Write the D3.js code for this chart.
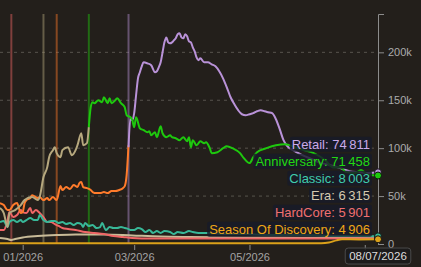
<!DOCTYPE html>
<html>
<head>
<meta charset="utf-8">
<script src="https://cdn.jsdelivr.net/npm/d3@7"></script>
<style>
  html, body { margin: 0; padding: 0; background: #231f1b; }
  svg { display: block; font-family: "Liberation Sans", Arial, sans-serif; }
</style>
</head>
<body>
<div id="chart"></div>
<script>
// Series values: [date, players]
const retail = [
  ["2026-02-26", 101000], ["2026-02-27", 131300], ["2026-02-28", 129200], ["2026-03-01", 136500],
  ["2026-03-02", 155200], ["2026-03-03", 172900], ["2026-03-04", 179200], ["2026-03-05", 185400],
  ["2026-03-06", 189600], ["2026-03-08", 188500], ["2026-03-10", 186500], ["2026-03-12", 179200],
  ["2026-03-13", 180200], ["2026-03-14", 184400], ["2026-03-15", 189600], ["2026-03-16", 200000],
  ["2026-03-17", 210400], ["2026-03-18", 215600], ["2026-03-19", 210400], ["2026-03-20", 209400],
  ["2026-03-21", 210400], ["2026-03-22", 212500], ["2026-03-23", 214600], ["2026-03-24", 218800],
  ["2026-03-25", 219800], ["2026-03-26", 215600], ["2026-03-27", 214600], ["2026-03-28", 218800],
  ["2026-03-29", 216700], ["2026-03-30", 211500], ["2026-03-31", 210400], ["2026-04-01", 205200],
  ["2026-04-02", 201000], ["2026-04-03", 194800], ["2026-04-04", 191700], ["2026-04-05", 193800],
  ["2026-04-07", 189600], ["2026-04-09", 189600], ["2026-04-11", 187500], ["2026-04-13", 185400],
  ["2026-04-15", 180200], ["2026-04-17", 172900], ["2026-04-19", 163500], ["2026-04-21", 153100],
  ["2026-04-23", 145800], ["2026-04-25", 139600], ["2026-04-27", 135400], ["2026-04-29", 134400],
  ["2026-05-01", 135400], ["2026-05-03", 136500], ["2026-05-05", 138500], ["2026-05-07", 139600],
  ["2026-05-09", 138500], ["2026-05-11", 137500], ["2026-05-13", 136500], ["2026-05-15", 130200],
  ["2026-05-17", 119800], ["2026-05-19", 108300], ["2026-05-21", 102100], ["2026-05-24", 97900],
  ["2026-05-29", 92700], ["2026-06-03", 88500], ["2026-06-08", 84400], ["2026-06-13", 82300],
  ["2026-06-18", 79200], ["2026-06-23", 76000], ["2026-06-28", 75000], ["2026-07-03", 74000],
  ["2026-07-08", 74811]
];

const anniversary = [
  ["2026-02-05", 121900], ["2026-02-06", 142700], ["2026-02-07", 147900], ["2026-02-08", 146900],
  ["2026-02-10", 150000], ["2026-02-12", 147900], ["2026-02-13", 153100], ["2026-02-15", 146900],
  ["2026-02-16", 152100], ["2026-02-17", 146900], ["2026-02-19", 150000], ["2026-02-20", 152100],
  ["2026-02-22", 146900], ["2026-02-24", 142700], ["2026-02-25", 134400], ["2026-02-27", 132300],
  ["2026-02-28", 129200], ["2026-03-01", 121900], ["2026-03-02", 132300], ["2026-03-04", 120800],
  ["2026-03-06", 118800], ["2026-03-08", 116700], ["2026-03-09", 117700], ["2026-03-10", 113500],
  ["2026-03-12", 116700], ["2026-03-13", 111500], ["2026-03-15", 122900], ["2026-03-16", 115600],
  ["2026-03-18", 111500], ["2026-03-20", 113500], ["2026-03-21", 111500], ["2026-03-23", 110400],
  ["2026-03-25", 108300], ["2026-03-27", 111500], ["2026-03-29", 107300], ["2026-03-30", 111500],
  ["2026-03-31", 101000], ["2026-04-01", 108300], ["2026-04-03", 103100], ["2026-04-05", 107300],
  ["2026-04-07", 105200], ["2026-04-08", 106300], ["2026-04-10", 100000], ["2026-04-11", 94800],
  ["2026-04-14", 95800], ["2026-04-17", 100000], ["2026-04-19", 102100], ["2026-04-22", 100000],
  ["2026-04-26", 94800], ["2026-04-28", 89600], ["2026-05-01", 84400], ["2026-05-03", 90600],
  ["2026-05-05", 95800], ["2026-05-10", 100000], ["2026-05-15", 103100], ["2026-05-20", 104200],
  ["2026-05-25", 101000], ["2026-05-30", 97900], ["2026-06-04", 94800], ["2026-06-10", 87500],
  ["2026-06-14", 80200], ["2026-06-18", 80200], ["2026-06-21", 75000], ["2026-06-26", 74000],
  ["2026-06-29", 77100], ["2026-07-03", 71900], ["2026-07-08", 71458]
];

const classic = [
  ["2025-12-20", 22900], ["2025-12-22", 24000], ["2025-12-24", 17700], ["2025-12-25", 22900],
  ["2025-12-27", 25000], ["2025-12-29", 22900], ["2025-12-31", 25000], ["2026-01-01", 22900],
  ["2026-01-03", 25000], ["2026-01-05", 27100], ["2026-01-07", 25000], ["2026-01-09", 25000],
  ["2026-01-10", 30200], ["2026-01-12", 25000], ["2026-01-14", 22900], ["2026-01-16", 24000],
  ["2026-01-18", 24000], ["2026-01-20", 21900], ["2026-01-22", 22900], ["2026-01-24", 20800],
  ["2026-01-26", 21900], ["2026-01-28", 19800], ["2026-01-30", 21900], ["2026-02-01", 20800],
  ["2026-02-02", 17700], ["2026-02-03", 21900], ["2026-02-05", 18800], ["2026-02-07", 19800],
  ["2026-02-09", 16700], ["2026-02-11", 17700], ["2026-02-12", 21900], ["2026-02-14", 14600],
  ["2026-02-16", 17700], ["2026-02-18", 16700], ["2026-02-20", 16700], ["2026-02-22", 17700],
  ["2026-02-24", 16700], ["2026-02-26", 15600], ["2026-02-27", 14600], ["2026-03-01", 14600],
  ["2026-03-03", 16700], ["2026-03-05", 15600], ["2026-03-07", 12500], ["2026-03-09", 14600],
  ["2026-03-11", 11500], ["2026-03-13", 13500], ["2026-03-15", 11500], ["2026-03-17", 13500],
  ["2026-03-20", 12500], ["2026-03-22", 10400], ["2026-03-24", 12500], ["2026-03-27", 11500],
  ["2026-03-30", 13500], ["2026-04-01", 12500], ["2026-04-04", 11500], ["2026-04-09", 11500],
  ["2026-04-19", 10400], ["2026-04-29", 10400], ["2026-05-09", 9400], ["2026-05-19", 9400],
  ["2026-05-29", 9400], ["2026-06-08", 8900], ["2026-06-18", 8300], ["2026-06-28", 8300],
  ["2026-07-08", 8003]
];

const era = [
  ["2025-12-20", 6300], ["2025-12-24", 5200], ["2025-12-26", 4200], ["2025-12-28", 5200],
  ["2026-01-01", 6800], ["2026-01-09", 8300], ["2026-01-19", 9400], ["2026-01-29", 10000],
  ["2026-02-13", 10000], ["2026-02-28", 8900], ["2026-03-15", 7800], ["2026-03-30", 7300],
  ["2026-04-29", 6800], ["2026-05-29", 6600], ["2026-07-08", 6315]
];

const hardcore = [
  ["2025-12-20", 14600], ["2025-12-22", 14600], ["2025-12-24", 25000], ["2025-12-25", 33300],
  ["2025-12-27", 28100], ["2025-12-29", 30200], ["2025-12-31", 35400], ["2026-01-01", 33300],
  ["2026-01-03", 32300], ["2026-01-05", 37500], ["2026-01-06", 32300], ["2026-01-08", 35400],
  ["2026-01-10", 32300], ["2026-01-12", 28100], ["2026-01-14", 22900], ["2026-01-16", 22900],
  ["2026-01-18", 20800], ["2026-01-20", 18800], ["2026-01-22", 16700], ["2026-01-25", 15600],
  ["2026-01-29", 14600], ["2026-02-03", 12500], ["2026-02-08", 11500], ["2026-02-13", 10400],
  ["2026-02-18", 8300], ["2026-02-23", 7300], ["2026-02-28", 6300], ["2026-03-10", 5700],
  ["2026-04-09", 5700], ["2026-05-09", 5700], ["2026-06-08", 5800], ["2026-07-08", 5901]
];

const seasonOfDiscovery = [
  ["2025-12-20", 800], ["2026-02-01", 800], ["2026-04-01", 800], ["2026-06-08", 800],
  ["2026-06-12", 1500], ["2026-06-16", 3800], ["2026-06-19", 4900], ["2026-06-28", 4800],
  ["2026-07-08", 4906]
];

// ended series, drawn without an end label
const retailPrev = [
  ["2025-12-20", 42700], ["2025-12-22", 40600], ["2025-12-24", 35400], ["2025-12-25", 35400],
  ["2025-12-27", 40600], ["2025-12-29", 42700], ["2025-12-31", 32300], ["2026-01-01", 33300],
  ["2026-01-02", 42700], ["2026-01-03", 45800], ["2026-01-05", 47900], ["2026-01-06", 51000],
  ["2026-01-09", 47900], ["2026-01-10", 49000], ["2026-01-12", 45800], ["2026-01-14", 47900],
  ["2026-01-15", 45800], ["2026-01-17", 49000], ["2026-01-19", 45800], ["2026-01-21", 60400],
  ["2026-01-22", 56300], ["2026-01-24", 59400], ["2026-01-26", 57300], ["2026-01-28", 61500],
  ["2026-01-30", 59400], ["2026-01-31", 63500], ["2026-02-01", 64600], ["2026-02-02", 59400],
  ["2026-02-04", 58300], ["2026-02-06", 56300], ["2026-02-07", 54200], ["2026-02-09", 53100],
  ["2026-02-11", 53100], ["2026-02-13", 54200], ["2026-02-15", 53100], ["2026-02-17", 55200],
  ["2026-02-19", 55200], ["2026-02-21", 56300], ["2026-02-23", 58300], ["2026-02-24", 60400],
  ["2026-02-25", 71900], ["2026-02-26", 103000]
];

const anniversaryPrev = [
  ["2025-12-20", 37500], ["2025-12-22", 32300], ["2025-12-24", 17700], ["2025-12-25", 32300],
  ["2025-12-28", 35400], ["2025-12-31", 40600], ["2026-01-02", 45800], ["2026-01-06", 49000],
  ["2026-01-09", 45800], ["2026-01-10", 49000], ["2026-01-12", 69800], ["2026-01-14", 80200],
  ["2026-01-15", 90600], ["2026-01-17", 97900], ["2026-01-18", 101000], ["2026-01-19", 94800],
  ["2026-01-21", 90600], ["2026-01-22", 97900], ["2026-01-25", 101000], ["2026-01-27", 92700],
  ["2026-01-29", 97900], ["2026-01-30", 103100], ["2026-02-01", 115600], ["2026-02-02", 103100],
  ["2026-02-04", 105200], ["2026-02-05", 121900]
];

// launch markers: [date, series key]
const events = [
  ["2025-12-26", "hardcore"], ["2026-01-12", "anniversaryPrev"], ["2026-01-19", "retailPrev"],
  ["2026-02-05", "anniversary"], ["2026-02-26", "retail"]
];

const yTicks = [0, 50000, 100000, 150000, 200000];

const colors = {
  retail: "#b992d8",
  anniversary: "#1ec80e",
  classic: "#38b898",
  era: "#c9bb98",
  hardcore: "#f06666",
  seasonOfDiscovery: "#dba11a",
  retailPrev: "#ff7b2b",
  anniversaryPrev: "#b6a87e"
};
const labelColors = {
  retail: "#c9aaea",
  anniversary: "#22d812",
  classic: "#40ccad",
  era: "#d6cab0",
  hardcore: "#f07070",
  seasonOfDiscovery: "#efa716"
};

const parse = d3.timeParse("%Y-%m-%d");
const toPoints = (arr) => arr.map(([d, v]) => ({ date: parse(d), value: v }));

const series = [
  { key: "era", name: "Era", data: toPoints(era) },
  { key: "hardcore", name: "HardCore", data: toPoints(hardcore) },
  { key: "classic", name: "Classic", data: toPoints(classic) },
  { key: "seasonOfDiscovery", name: "Season Of Discovery", data: toPoints(seasonOfDiscovery) },
  { key: "retailPrev", name: null, data: toPoints(retailPrev) },
  { key: "anniversaryPrev", name: null, data: toPoints(anniversaryPrev) },
  { key: "retail", name: "Retail", data: toPoints(retail) },
  { key: "anniversary", name: "Anniversary", data: toPoints(anniversary) }
];

const width = 421;
const height = 267;
const plotRight = 378;
const plotBottom = 244;
const plotTop = 14;

const x = d3.scaleTime()
  .domain([parse("2025-12-20"), parse("2026-07-08")])
  .range([0, plotRight]);
const y = d3.scaleLinear().domain([0, 240000]).range([plotBottom, plotTop]);

const locale = d3.formatLocale({ decimal: ",", thousands: "\u202f", grouping: [3], currency: ["", " €"] });
const fmt = locale.format(",d");

const svg = d3.select("#chart").append("svg")
  .attr("width", width)
  .attr("height", height)
  .attr("viewBox", [0, 0, width, height]);

svg.append("rect").attr("width", width).attr("height", height).attr("fill", "#231f1b");

// gridlines
svg.append("g")
  .selectAll("line")
  .data(yTicks.filter((t) => t > 0))
  .join("line")
  .attr("x1", 0)
  .attr("x2", plotRight)
  .attr("y1", (d) => y(d))
  .attr("y2", (d) => y(d))
  .attr("stroke", "#57534d")
  .attr("stroke-width", 1)
  .attr("stroke-dasharray", "3,4");

// launch markers
svg.append("g")
  .selectAll("line")
  .data(events)
  .join("line")
  .attr("x1", (d) => x(parse(d[0])))
  .attr("x2", (d) => x(parse(d[0])))
  .attr("y1", plotTop)
  .attr("y2", plotBottom)
  .attr("stroke", (d) => colors[d[1]])
  .attr("stroke-opacity", 0.45)
  .attr("stroke-width", 2);

// right axis
const yAxis = svg.append("g")
  .attr("transform", `translate(${plotRight},0)`)
  .call(d3.axisRight(y).tickValues(yTicks).tickSize(6).tickPadding(4)
    .tickFormat((d) => (d === 0 ? "0" : d / 1000 + "k")));
yAxis.select(".domain").attr("stroke", "#8c8c8c");
yAxis.selectAll(".tick line").attr("stroke", "#8c8c8c");
yAxis.selectAll(".tick text").attr("fill", "#ababab").attr("font-size", 11)
  .attr("font-family", "Liberation Sans, Arial, sans-serif");

// bottom axis (the last month label sits under the date tooltip, so it is left out)
const lastMonth = d3.timeMonth.floor(x.domain()[1]);
const xAxis = svg.append("g")
  .attr("transform", `translate(0,${plotBottom + 1})`)
  .call(d3.axisBottom(x).ticks(d3.timeMonth.every(2)).tickSize(5).tickPadding(3)
    .tickFormat((d) => (+d === +lastMonth ? "" : d3.timeFormat("%m/%Y")(d))));
xAxis.select(".domain").remove();
xAxis.selectAll(".tick line").attr("stroke", "#8c8c8c");
xAxis.selectAll(".tick text").attr("fill", "#a3a3a3").attr("font-size", 11)
  .attr("font-family", "Liberation Sans, Arial, sans-serif");

// lines
const line = d3.line()
  .x((d) => x(d.date))
  .y((d) => y(d.value))
  .curve(d3.curveMonotoneX);

svg.append("g")
  .selectAll("path")
  .data(series)
  .join("path")
  .attr("d", (d) => line(d.data))
  .attr("fill", "none")
  .attr("stroke", (d) => colors[d.key])
  .attr("stroke-width", 2)
  .attr("stroke-linejoin", "round");

// end dots
const ended = series.filter((s) => s.name);
svg.append("g")
  .selectAll("circle")
  .data(ended)
  .join("circle")
  .attr("cx", (d) => x(d.data[d.data.length - 1].date))
  .attr("cy", (d) => y(d.data[d.data.length - 1].value))
  .attr("r", 3.5)
  .attr("fill", (d) => colors[d.key])
  .attr("stroke", "#111")
  .attr("stroke-width", 1);

// end labels, stacked upwards from the lowest one
const labelGap = 17;
const labels = ended.map((s) => {
  const last = s.data[s.data.length - 1];
  return { ...s, last, ty: y(last.value) - 10 };
}).sort((a, b) => b.ty - a.ty);
let prev = Infinity;
labels.forEach((l) => {
  l.ly = Math.min(l.ty, prev - labelGap);
  prev = l.ly;
});

const lab = svg.append("g")
  .selectAll("g")
  .data(labels)
  .join("g")
  .attr("transform", (d) => `translate(${plotRight - 8},${d.ly})`);
lab.append("rect");
lab.append("text")
  .attr("text-anchor", "end")
  .attr("dy", "0.35em")
  .attr("font-size", 13)
  .attr("fill", (d) => labelColors[d.key])
  .text((d) => `${d.name}: ${fmt(d.last.value)}`);
lab.each(function () {
  const b = d3.select(this).select("text").node().getBBox();
  d3.select(this).select("rect")
    .attr("x", b.x - 2)
    .attr("y", b.y)
    .attr("width", b.width + 4)
    .attr("height", b.height)
    .attr("rx", 2)
    .attr("fill", "#171b29")
    .attr("fill-opacity", 0.82);
});

// date tooltip at the last point
const lastDate = series[series.length - 1].data.slice(-1)[0].date;
const tip = svg.append("g").attr("transform", `translate(${x(lastDate)},256)`);
const tipText = tip.append("text")
  .attr("text-anchor", "middle")
  .attr("dy", "0.35em")
  .attr("font-size", 11.5)
  .attr("fill", "#dcdcdc")
  .text(d3.timeFormat("%d/%m/%Y")(lastDate));
const tb = tipText.node().getBBox();
tip.insert("rect", "text")
  .attr("x", tb.x - 4)
  .attr("y", tb.y - 2)
  .attr("width", tb.width + 8)
  .attr("height", tb.height + 4)
  .attr("rx", 3)
  .attr("fill", "#1b1b1b")
  .attr("fill-opacity", 0.85)
  .attr("stroke", "#4a4a4a");
</script>
</body>
</html>
